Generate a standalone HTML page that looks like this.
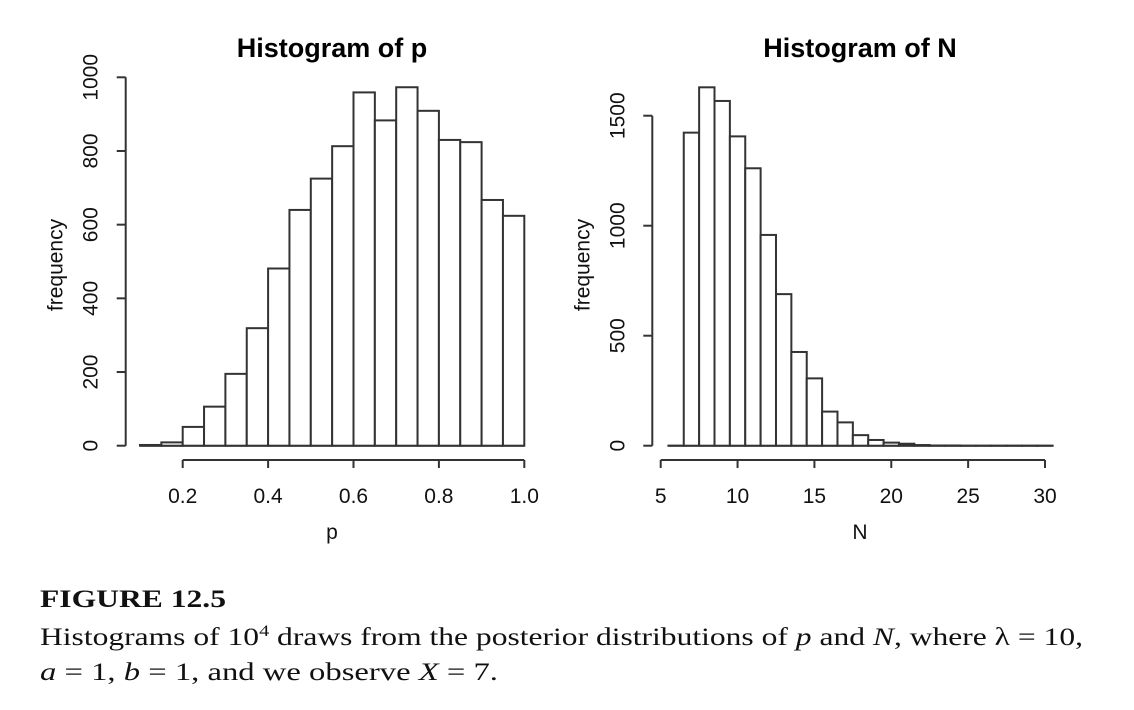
<!DOCTYPE html>
<html><head><meta charset="utf-8"><style>
html,body{margin:0;padding:0;background:#fff;}
svg{display:block;font-family:"Liberation Sans",sans-serif;}
.cap{font-family:"Liberation Serif",serif;font-size:25px;fill:#111;}
</style></head><body>
<svg id="fig" width="1134" height="710" viewBox="0 0 1134 710" xmlns="http://www.w3.org/2000/svg">
<g id="left"></g>
<g id="right"></g>
<text class="cap" x="40" y="607" font-weight="bold" textLength="186" lengthAdjust="spacingAndGlyphs">FIGURE 12.5</text>
<text class="cap" x="40" y="645" textLength="1043" lengthAdjust="spacingAndGlyphs">Histograms of 10<tspan dy="-9" font-size="16">4</tspan><tspan dy="9"> draws from the posterior distributions of </tspan><tspan font-style="italic">p</tspan> and <tspan font-style="italic">N</tspan>, where λ = 10,</text>
<text class="cap" x="40" y="680" textLength="458" lengthAdjust="spacingAndGlyphs"><tspan font-style="italic">a</tspan> = 1, <tspan font-style="italic">b</tspan> = 1, and we observe <tspan font-style="italic">X</tspan> = 7.</text>
</svg>
<script>
const pStart = 0.10, pWidth = 0.05;
const pCounts = [2, 9, 51, 106, 195, 319, 481, 640, 725, 813, 959, 883, 973, 909, 830, 824, 667, 624];
const pXTicks = [0.2, 0.4, 0.6, 0.8, 1.0];
const pXTickLabels = ["0.2", "0.4", "0.6", "0.8", "1.0"];
const pYTicks = [0, 200, 400, 600, 800, 1000];

const nStart = 5.5, nWidth = 1;
const nCounts = [0, 1423, 1629, 1567, 1406, 1261, 958, 689, 426, 306, 155, 106, 48, 26, 14, 9, 3, 1, 1, 0, 0, 0, 0, 0, 0];
const nXTicks = [5, 10, 15, 20, 25, 30];
const nYTicks = [0, 500, 1000, 1500];

const NS = "http://www.w3.org/2000/svg";
function mk(parent, tag, attrs, text) {
  const e = document.createElementNS(NS, tag);
  for (const k in attrs) e.setAttribute(k, attrs[k]);
  if (text !== undefined) e.textContent = text;
  parent.appendChild(e);
  return e;
}
const stroke = "#333";

function drawHist(g, cfg) {
  const sx = v => cfg.x0 + (v - cfg.xa) / (cfg.xb - cfg.xa) * (cfg.x1 - cfg.x0);
  const sy = v => cfg.y0 - v * cfg.yScale;
  const t = mk(g, "text", {x: cfg.titleX, y: 57, "text-anchor": "middle", "font-size": "27", "font-weight": "bold", fill: "#000"}, cfg.title);
  
  
  // baseline across all bins
  const endX = cfg.start + cfg.counts.length * cfg.width;
  const bl = mk(g, "line", {x1: sx(cfg.start), x2: sx(endX), y1: sy(0), y2: sy(0), stroke: stroke, "stroke-width": "2"});
  
  
  cfg.counts.forEach((c, i) => {
    const a = cfg.start + i * cfg.width, b = a + cfg.width;
    const r = mk(g, "rect", {x: sx(a), y: sy(c), width: sx(b) - sx(a), height: Math.max(sy(0) - sy(c), 0.01), fill: "#fff", stroke: stroke, "stroke-width": "2"});
    
    
  });
  const xa = mk(g, "g", {});
  
  
  mk(xa, "line", {x1: sx(cfg.xTicks[0]), x2: sx(cfg.xTicks[cfg.xTicks.length - 1]), y1: 460, y2: 460, stroke: stroke, "stroke-width": "2"});
  cfg.xTicks.forEach((v, i) => {
    mk(xa, "line", {x1: sx(v), x2: sx(v), y1: 460, y2: 468, stroke: stroke, "stroke-width": "2"});
    const l = mk(xa, "text", {x: sx(v), y: 503, "text-anchor": "middle", "font-size": "21", fill: "#111"}, cfg.xLabels[i]);
    
    
  });
  const xt = mk(g, "text", {x: cfg.titleX, y: 539, "text-anchor": "middle", "font-size": "21", fill: "#111"}, cfg.xTitle);
  
  
  const ya = mk(g, "g", {});
  
  
  const yTop = cfg.yTicks[cfg.yTicks.length - 1];
  mk(ya, "line", {x1: cfg.yAxisX, x2: cfg.yAxisX, y1: sy(0), y2: sy(yTop), stroke: stroke, "stroke-width": "2"});
  cfg.yTicks.forEach(v => {
    mk(ya, "line", {x1: cfg.yAxisX - 9, x2: cfg.yAxisX, y1: sy(v), y2: sy(v), stroke: stroke, "stroke-width": "2"});
    const lx = cfg.yAxisX - 28;
    const l = mk(ya, "text", {x: lx, y: sy(v), "text-anchor": "middle", "font-size": "21", fill: "#111", transform: `rotate(-90 ${lx} ${sy(v)})`}, String(v));
    
    
  });
  const fx = cfg.yAxisX - 63, fy = 265;
  const yt = mk(g, "text", {x: fx, y: fy, "text-anchor": "middle", "font-size": "21", fill: "#111", transform: `rotate(-90 ${fx} ${fy})`}, "frequency");
  
  
}

drawHist(document.getElementById("left"), {
  title: "Histogram of p", titleX: 332, xTitle: "p",
  xa: 0.2, xb: 1.0, x0: 182.7, x1: 524.3, y0: 445.7, yScale: 0.3684,
  start: pStart, width: pWidth, counts: pCounts,
  xTicks: pXTicks, xLabels: pXTickLabels, yTicks: pYTicks, yAxisX: 125.7
});
drawHist(document.getElementById("right"), {
  title: "Histogram of N", titleX: 860, xTitle: "N",
  xa: 5, xb: 30, x0: 660.7, x1: 1045, y0: 445.7, yScale: 0.22,
  start: nStart, width: nWidth, counts: nCounts,
  xTicks: nXTicks, xLabels: nXTicks.map(String), yTicks: nYTicks, yAxisX: 652.3
});
</script>
</body></html>
